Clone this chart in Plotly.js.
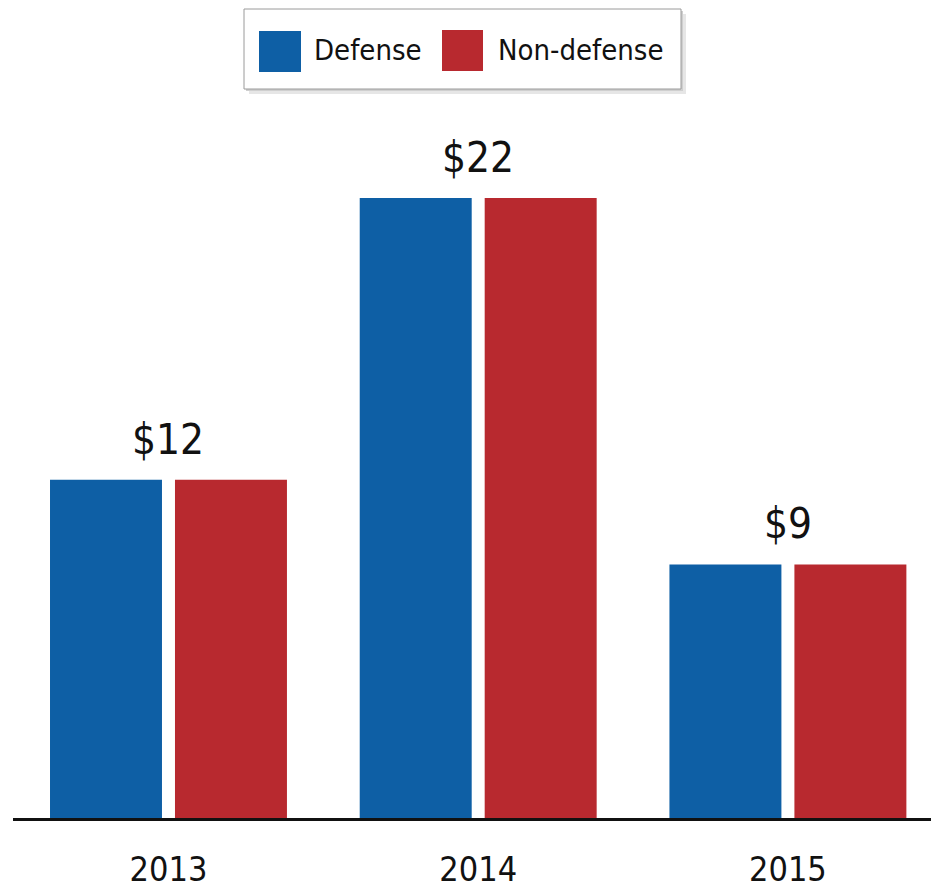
<!DOCTYPE html>
<html>
<head>
<meta charset="utf-8">
<script src="https://cdn.plot.ly/plotly-3.0.1.min.js"></script>
<style>html,body{margin:0;padding:0;background:#fff;}#chart{width:931px;height:892px;}</style>
</head>
<body>
<div id="chart"></div>
<script>
const years = ['2013', '2014', '2015'];
const seriesNames = ['Defense', 'Non-defense'];
const defense = [12, 22, 9];
const nonDefense = [12, 22, 9];
const totalLabels = ['$12', '$22', '$9'];
const colors = ['#0e5fa5', '#b8292f'];

const FONT = '"DejaVu Sans Condensed", "Liberation Sans Narrow", sans-serif';
const W = 931, H = 892;
const L = 13, R = 0, T = 29, B = 74;
const pw = W - L - R, ph = H - T - B;
const px = x => (x - L) / pw;
const py = y => (H - B - y) / ph;

const traces = [
  {type: 'bar', name: seriesNames[0], x: years, y: defense, marker: {color: colors[0]}, showlegend: false, hoverinfo: 'none'},
  {type: 'bar', name: seriesNames[1], x: years, y: nonDefense, marker: {color: colors[1]}, showlegend: false, hoverinfo: 'none'}
];

const annotations = years.map((yr, i) => ({
  x: i, y: Math.max(defense[i], nonDefense[i]), xref: 'x', yref: 'y',
  text: totalLabels[i], showarrow: false, yanchor: 'bottom', yshift: 14,
  font: {family: FONT, size: 42, color: '#111'}
}));

// custom legend
const shapes = [
  {type: 'rect', xref: 'paper', yref: 'paper', x0: px(249), x1: px(686), y0: py(14), y1: py(94), fillcolor: '#e6e6e6', line: {width: 0}, layer: 'above'},
  {type: 'rect', xref: 'paper', yref: 'paper', x0: px(246), x1: px(683), y0: py(11), y1: py(91), fillcolor: '#cfcfcf', line: {width: 0}, layer: 'above'},
  {type: 'rect', xref: 'paper', yref: 'paper', x0: px(244), x1: px(681), y0: py(9), y1: py(89), fillcolor: '#ffffff', line: {width: 1, color: '#9a9a9a'}, layer: 'above'},
  {type: 'rect', xref: 'paper', yref: 'paper', x0: px(259), x1: px(301), y0: py(31), y1: py(72), fillcolor: colors[0], line: {width: 0}, layer: 'above'},
  {type: 'rect', xref: 'paper', yref: 'paper', x0: px(442), x1: px(483), y0: py(30), y1: py(71), fillcolor: colors[1], line: {width: 0}, layer: 'above'}
];
annotations.push(
  {xref: 'paper', yref: 'paper', x: px(368), y: py(50), text: seriesNames[0], showarrow: false, xanchor: 'center', yanchor: 'middle', font: {family: FONT, size: 29, color: '#111'}},
  {xref: 'paper', yref: 'paper', x: px(580), y: py(50), text: seriesNames[1], showarrow: false, xanchor: 'center', yanchor: 'middle', font: {family: FONT, size: 29, color: '#111'}}
);

const layout = {
  width: W, height: H,
  margin: {l: L, r: R, t: T, b: B, pad: 0},
  paper_bgcolor: '#fff', plot_bgcolor: '#fff',
  barmode: 'group', bargap: 0.193, bargroupgap: 0.104,
  showlegend: false,
  font: {family: FONT, color: '#111'},
  xaxis: {type: 'category', range: [-0.502, 2.462], showline: true, linecolor: '#111', linewidth: 2.5,
          showgrid: false, zeroline: false, ticks: '', tickfont: {family: FONT, size: 34, color: '#111'}, ticklabelstandoff: 20, fixedrange: true},
  yaxis: {range: [0, 28], visible: false, showgrid: false, zeroline: false, fixedrange: true},
  shapes: shapes,
  annotations: annotations
};

Plotly.newPlot('chart', traces, layout, {displayModeBar: false, staticPlot: true});
</script>
</body>
</html>
